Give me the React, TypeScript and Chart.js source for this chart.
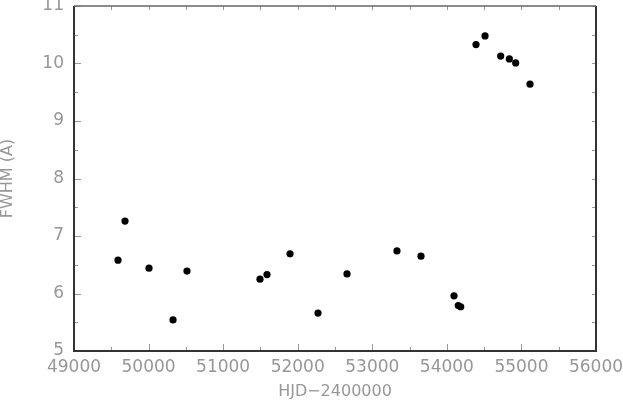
import React, { useEffect, useRef } from "react";
import { Chart, registerables } from "chart.js";

Chart.register(...registerables);

const hjd = [
  49590, 49684, 50006, 50328, 50515, 51494, 51588, 51897, 52272, 52661, 53331,
  53653, 54096, 54153, 54186, 54391, 54512, 54722, 54838, 54923, 55115,
];
const fwhm = [
  6.58, 7.26, 6.44, 5.54, 6.39, 6.25, 6.33, 6.69, 5.66, 6.34, 6.74, 6.65, 5.96,
  5.79, 5.77, 10.33, 10.48, 10.13, 10.08, 10.01, 9.64,
];
const xMin = 49000;
const xMax = 56000;
const xStep = 1000;
const xMinorStep = 500;
const yMin = 5;
const yMax = 11;
const yStep = 1;
const yMinorStep = 0.5;
const xTitle = "HJD\u22122400000";
const yTitle = "FWHM (A)";

const TEXT = "#979797";
const FONT = "'DejaVu Sans', sans-serif";

const framePlugin = {
  id: "frameTicks",
  afterDatasetsDraw(chart: any) {
    const { ctx, chartArea } = chart;
    const { left, right, top, bottom } = chartArea;
    const xs = chart.scales.x;
    const ys = chart.scales.y;
    ctx.save();
    ctx.strokeStyle = "#999";
    ctx.lineWidth = 1;
    ctx.beginPath();
    for (let v = xMin; v <= xMax + 1e-9; v += xMinorStep) {
      const px = Math.round(xs.getPixelForValue(v)) + 0.5;
      const major = Math.abs(v / xStep - Math.round(v / xStep)) < 1e-9;
      ctx.moveTo(px, bottom);
      ctx.lineTo(px, bottom - (major ? 7 : 4));
      ctx.moveTo(px, top);
      ctx.lineTo(px, top + 4);
    }
    for (let v = yMin; v <= yMax + 1e-9; v += yMinorStep) {
      const py = Math.round(ys.getPixelForValue(v)) + 0.5;
      const major = Math.abs(v / yStep - Math.round(v / yStep)) < 1e-9;
      ctx.moveTo(left, py);
      ctx.lineTo(left + (major ? 7 : 4), py);
      ctx.moveTo(right, py);
      ctx.lineTo(right - 4, py);
    }
    ctx.stroke();
    ctx.lineWidth = 2;
    ctx.strokeStyle = "#333";
    ctx.beginPath();
    ctx.moveTo(left, top);
    ctx.lineTo(left, bottom);
    ctx.lineTo(right, bottom);
    ctx.lineTo(right, top);
    ctx.stroke();
    ctx.strokeStyle = "#666";
    ctx.lineWidth = 1.5;
    ctx.beginPath();
    ctx.moveTo(left, top);
    ctx.lineTo(right, top);
    ctx.stroke();
    ctx.restore();
  },
};

export default function App() {
  const ref = useRef<HTMLCanvasElement | null>(null);
  useEffect(() => {
    document.body.style.margin = "0";
    const canvas = ref.current;
    if (!canvas) return;
    const chart = new Chart(canvas, {
      type: "scatter",
      data: {
        datasets: [
          {
            data: hjd.map((x, i) => ({ x, y: fwhm[i] })),
            backgroundColor: "#000",
            borderColor: "#000",
            pointRadius: 3.6,
            pointHoverRadius: 3.6,
            borderWidth: 0,
          },
        ],
      },
      options: {
        responsive: false,
        animation: false,
        maintainAspectRatio: false,
        layout: { padding: { top: 6, right: 27, left: 0, bottom: 0 } },
        plugins: {
          legend: { display: false },
          tooltip: { enabled: false },
        },
        scales: {
          x: {
            type: "linear",
            position: "bottom",
            min: xMin,
            max: xMax,
            border: { display: false },
            grid: { display: false, drawTicks: false },
            ticks: {
              stepSize: xStep,
              padding: 6,
              color: TEXT,
              font: { family: FONT, size: 17 },
              maxRotation: 0,
              autoSkip: false,
              callback: (v: any) => String(v),
            },
            title: {
              display: true,
              text: xTitle,
              color: TEXT,
              font: { family: FONT, size: 16, lineHeight: 1 },
              padding: 0,
            },
            afterFit: (s: any) => {
              s.height = 49;
              s.paddingLeft = 0;
              s.paddingRight = 0;
              s.paddingTop = 0;
              s.paddingBottom = 0;
            },
          },
          y: {
            type: "linear",
            position: "left",
            min: yMin,
            max: yMax,
            border: { display: false },
            grid: { display: false, drawTicks: false },
            ticks: {
              stepSize: yStep,
              padding: 10,
              color: TEXT,
              font: { family: FONT, size: 17 },
              autoSkip: false,
              callback: (v: any) => String(v),
            },
            title: {
              display: true,
              text: yTitle,
              color: TEXT,
              font: { family: FONT, size: 16, lineHeight: 1 },
              padding: { top: 0, bottom: 0 },
            },
            afterFit: (s: any) => {
              s.width = 74;
              s.paddingLeft = 0;
              s.paddingRight = 0;
              s.paddingTop = 0;
              s.paddingBottom = 0;
            },
          },
        },
      },
      plugins: [framePlugin],
    } as any);
    return () => chart.destroy();
  }, []);
  return (
    <div style={{ width: 623, height: 400 }}>
      <canvas ref={ref} width={623} height={400} style={{ display: "block" }} />
    </div>
  );
}
